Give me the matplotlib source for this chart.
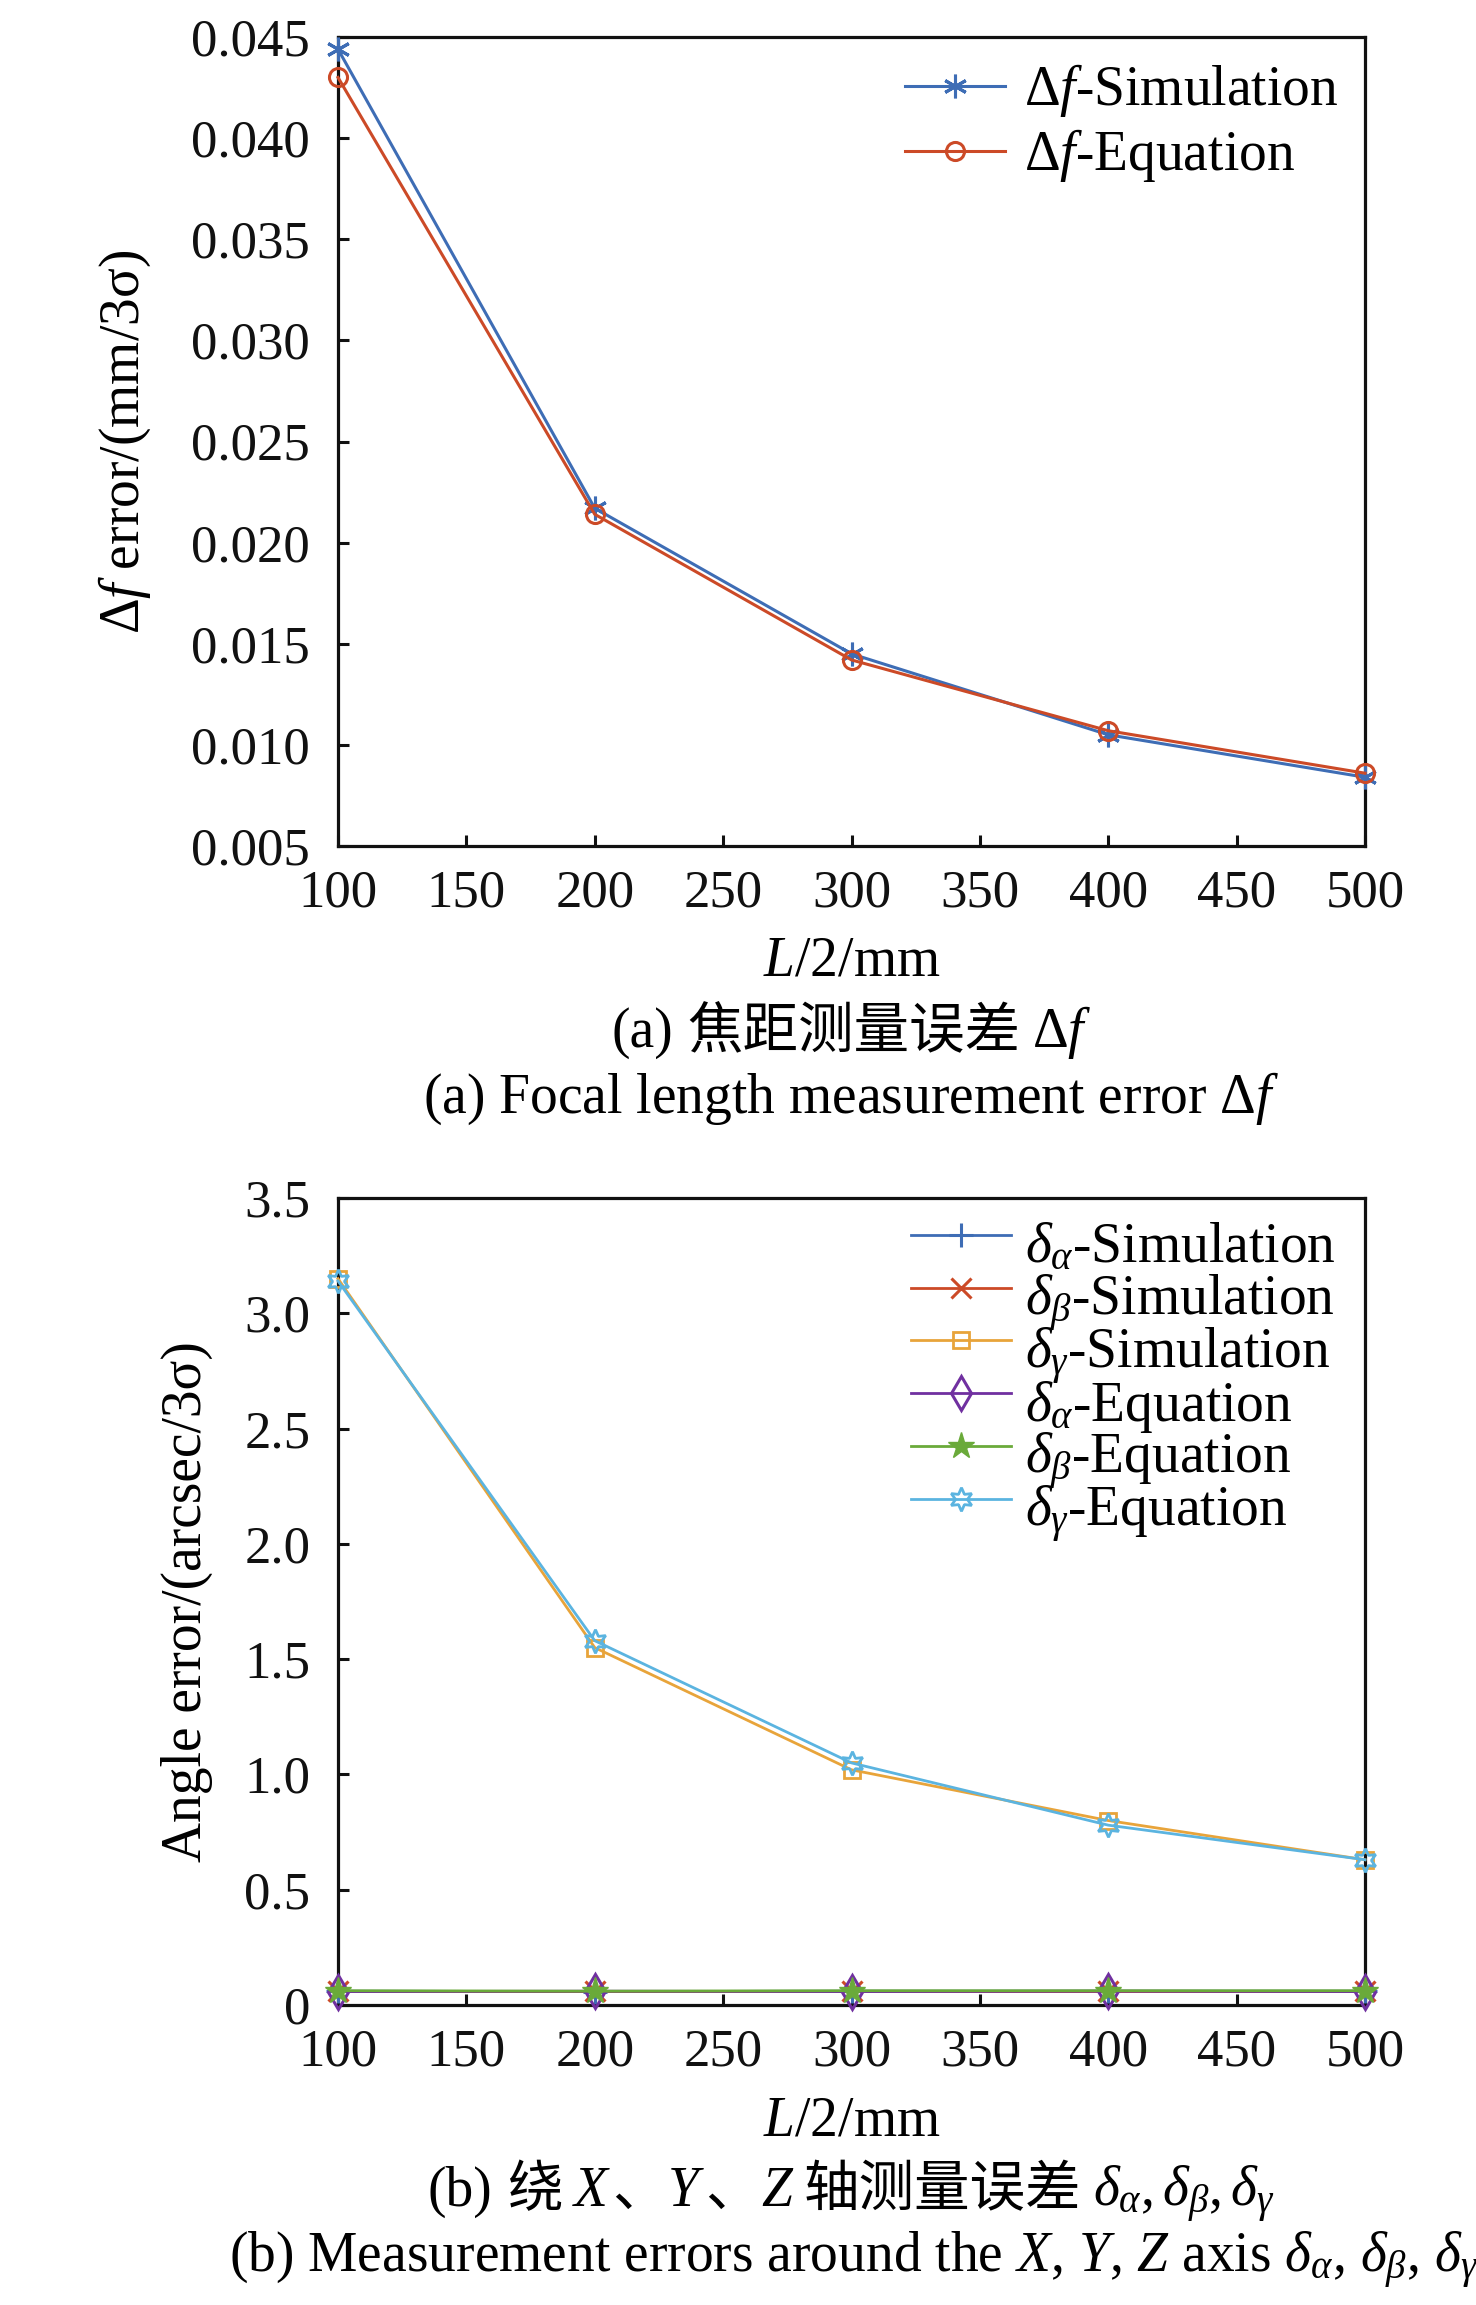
import matplotlib
matplotlib.use("Agg")
import matplotlib.pyplot as plt
from matplotlib.ticker import FixedLocator, FixedFormatter

# ---- data ----
L_HALF = [100, 200, 300, 400, 500]

df_sim = [0.0444, 0.0217, 0.0145, 0.0105, 0.0084]
df_eq = [0.0430, 0.0214, 0.0142, 0.0107, 0.0086]

da_sim = [0.060, 0.058, 0.060, 0.060, 0.060]
db_sim = [0.060, 0.060, 0.060, 0.060, 0.060]
dg_sim = [3.15, 1.55, 1.02, 0.80, 0.63]
da_eq = [0.058, 0.060, 0.058, 0.060, 0.058]
db_eq = [0.062, 0.060, 0.062, 0.062, 0.062]
dg_eq = [3.14, 1.58, 1.05, 0.78, 0.63]

x_ticks = [100, 150, 200, 250, 300, 350, 400, 450, 500]
ya_ticks = [0.005, 0.010, 0.015, 0.020, 0.025, 0.030, 0.035, 0.040, 0.045]
ya_labels = ["0.005", "0.010", "0.015", "0.020", "0.025", "0.030", "0.035", "0.040", "0.045"]
yb_ticks = [0, 0.5, 1.0, 1.5, 2.0, 2.5, 3.0, 3.5]
yb_labels = ["0", "0.5", "1.0", "1.5", "2.0", "2.5", "3.0", "3.5"]

# ---- style ----
SERIF = ["Liberation Serif", "DejaVu Serif"]
CJK = ["Noto Sans CJK SC", "DejaVu Sans"]
plt.rcParams["font.family"] = SERIF
plt.rcParams["mathtext.fontset"] = "custom"
plt.rcParams["mathtext.rm"] = "Liberation Serif"
plt.rcParams["mathtext.it"] = "Liberation Serif:italic"
plt.rcParams["mathtext.bf"] = "Liberation Serif:bold"

BLUE = "#3E6DB5"
RED = "#CC4A27"
ORANGE = "#E8A43A"
PURPLE = "#7030A0"
GREEN = "#6AAA3A"
CYAN = "#5BB4E0"

W, H = 1476, 2305
FS = 40
TICK_FS = 38


def fx(x):
    return x / W


def fy(y):
    return 1 - y / H


fig = plt.figure(figsize=(W / 100, H / 100), dpi=100)

# axes rectangles from pixel edges
A_L, A_R = 338, 1365
a_top, a_bot = 37, 846
b_top, b_bot = 1198, 2005
ax1 = fig.add_axes([fx(A_L), fy(a_bot), (A_R - A_L) / W, (a_bot - a_top) / H])
ax2 = fig.add_axes([fx(A_L), fy(b_bot), (A_R - A_L) / W, (b_bot - b_top) / H])

for ax in (ax1, ax2):
    for sp in ax.spines.values():
        sp.set_linewidth(2.3)
        sp.set_color("#111111")
    ax.tick_params(direction="in", length=8, width=2.2, labelsize=TICK_FS,
                   top=False, right=False, colors="#111111")
    ax.tick_params(axis="x", pad=17)
    ax.tick_params(axis="y", pad=20)
    ax.set_xlim(100, 500)
    ax.xaxis.set_major_locator(FixedLocator(x_ticks))

# ---- panel (a) ----
ax1.plot(L_HALF, df_sim, color=BLUE, lw=2.2, marker=(6, 2, 0), ms=17, mew=2.2,
         label=r"$\Delta f$-Simulation", clip_on=False, zorder=3)
ax1.plot(L_HALF, df_eq, color=RED, lw=2.2, marker="o", ms=13, mew=2.2, mfc="none",
         label=r"$\Delta f$-Equation", clip_on=False, zorder=3)
ax1.set_ylim(0.005, 0.045)
ax1.yaxis.set_major_locator(FixedLocator(ya_ticks))
ax1.yaxis.set_major_formatter(FixedFormatter(ya_labels))

ax1.legend(loc="upper left", bbox_to_anchor=(fx(905), fy(62)), bbox_transform=fig.transFigure,
           frameon=False, fontsize=FS, borderpad=0, borderaxespad=0,
           handlelength=1.8, handletextpad=0.34, labelspacing=0.15)

# ---- panel (b) ----
ax2.plot(L_HALF, da_sim, color=BLUE, lw=2, marker="+", ms=17, mew=2.2,
         label=r"$\delta_\alpha$-Simulation", clip_on=False, zorder=3)
ax2.plot(L_HALF, db_sim, color=RED, lw=2, marker="x", ms=14, mew=2.2,
         label=r"$\delta_\beta$-Simulation", clip_on=False, zorder=3)
ax2.plot(L_HALF, dg_sim, color=ORANGE, lw=2, marker="s", ms=11, mew=2, mfc="none",
         label=r"$\delta_\gamma$-Simulation", clip_on=False, zorder=3)
ax2.plot(L_HALF, da_eq, color=PURPLE, lw=2, marker="d", ms=17, mew=2.2, mfc="none",
         label=r"$\delta_\alpha$-Equation", clip_on=False, zorder=3)
ax2.plot(L_HALF, db_eq, color=GREEN, lw=2, marker="*", ms=20, mew=1,
         label=r"$\delta_\beta$-Equation", clip_on=False, zorder=3)
ax2.plot(L_HALF, dg_eq, color=CYAN, lw=2, marker=(6, 1, 0), ms=17, mew=2, mfc="none",
         label=r"$\delta_\gamma$-Equation", clip_on=False, zorder=3)
ax2.set_ylim(0, 3.5)
ax2.yaxis.set_major_locator(FixedLocator(yb_ticks))
ax2.yaxis.set_major_formatter(FixedFormatter(yb_labels))

# tall handle boxes make every row the same height, so the rows are evenly spaced
ax2.legend(loc="upper left", bbox_to_anchor=(fx(911), fy(1207)), bbox_transform=fig.transFigure,
           frameon=False, fontsize=FS, borderpad=0, borderaxespad=0,
           handlelength=1.8, handletextpad=0.25, handleheight=1.7, labelspacing=-0.40)

# ---- axis labels ----
CX = (A_L + A_R) / 2
fig.text(fx(CX), fy(976), r"$L$/2/mm", fontsize=FS, ha="center", va="baseline")
fig.text(fx(CX), fy(2135), r"$L$/2/mm", fontsize=FS, ha="center", va="baseline")
fig.text(fx(125), fy((a_top + a_bot) / 2), r"$\Delta f$ error/(mm/3σ)", fontsize=FS,
         rotation=90, ha="center", va="center")
fig.text(fx(187), fy((b_top + b_bot) / 2), r"Angle error/(arcsec/3σ)", fontsize=FS,
         rotation=90, ha="center", va="center")


# ---- captions built from pieces (serif + CJK + math) ----
def caption(y_px, pieces, cx_px=CX):
    renderer = fig.canvas.get_renderer()
    made = []
    total = 0
    for text, fam, gap in pieces:
        t = fig.text(0, fy(y_px), text, fontsize=FS, family=fam, ha="left", va="baseline")
        w = t.get_window_extent(renderer).width
        made.append((t, w, gap))
        total += w + gap
    x = cx_px - total / 2
    for t, w, gap in made:
        t.set_x(fx(x))
        x += w + gap


caption(1047, [("(a)", SERIF, 14), ("焦距测量误差", CJK, 12), (r"$\Delta f$", SERIF, 0)])
caption(1113, [(r"(a) Focal length measurement error $\Delta f$", SERIF, 0)])
caption(2206, [("(b)", SERIF, 14), ("绕", CJK, 10), (r"$X$", SERIF, 0), ("、", CJK, 0),
               (r"$Y$", SERIF, 0), ("、", CJK, 0), (r"$Z$", SERIF, 10),
               ("轴测量误差", CJK, 12),
               (r"$\delta_\alpha, \delta_\beta, \delta_\gamma$", SERIF, 0)])
caption(2272, [(r"(b) Measurement errors around the $X$, $Y$, $Z$ axis "
                r"$\delta_\alpha$, $\delta_\beta$, $\delta_\gamma$", SERIF, 0)], cx_px=854)

fig.savefig("out.png", dpi=100)
